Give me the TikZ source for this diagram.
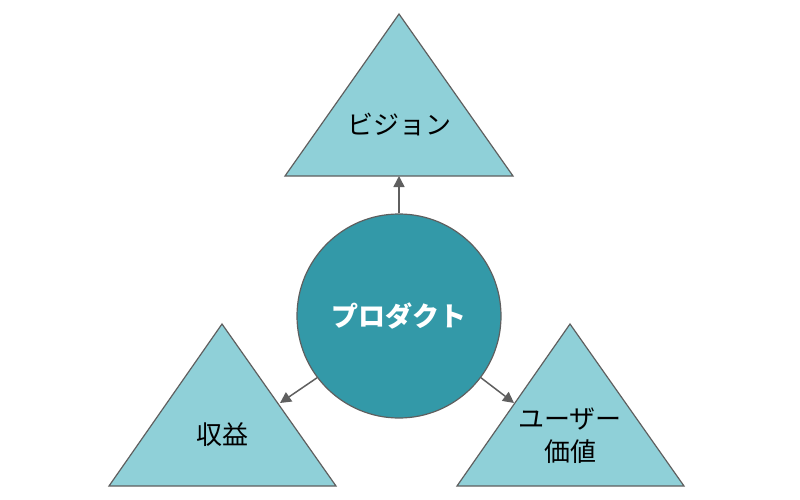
\documentclass[tikz,border=0pt]{standalone}
\usepackage{fontspec}
\setmainfont{Noto Sans CJK JP}
\usetikzlibrary{arrows.meta}
\definecolor{trifill}{HTML}{8FD0D8}
\definecolor{circfill}{HTML}{3399A8}
\definecolor{edgegray}{HTML}{5F5F5F}
\tikzset{
  tri/.style={fill=trifill,draw=edgegray,line width=1.2pt,line join=miter},
  conn/.style={draw=edgegray,line width=1.5pt,-{Triangle[length=11pt,width=11pt]}},
  lbl/.style={font=\fontsize{26}{33}\selectfont,text=black,align=center,inner sep=0pt}
}
\begin{document}
\begin{tikzpicture}[x=1pt,y=-1pt]
\useasboundingbox (0,0) rectangle (800,500);
% triangles
\draw[tri] (399,14) -- (513,176) -- (285,176) -- cycle;
\draw[tri] (222,324) -- (336,486) -- (109,486) -- cycle;
\draw[tri] (570,324) -- (684,486) -- (457,486) -- cycle;
\coordinate (topbase) at (399,176);
\coordinate (lefttip) at (280,403);
\coordinate (righttip) at (514,403);
% circle
\node[circle,fill=circfill,draw=edgegray,line width=1.2pt,minimum size=204pt,inner sep=0pt] (prod) at (399,316) {};
\node[font=\fontsize{27}{30}\selectfont\bfseries,text=white,inner sep=0pt] (prodtxt) at (399,316) {プロダクト};
% labels
\node[lbl] (vision) at (399,125) {ビジョン};
\node[lbl] (revenue) at (222,435) {収益};
\node[lbl] (uservalue) at (570,436) {ユーザー\\価値};
% connectors
\draw[conn] (prod.north) -- (topbase);
\draw[conn] (prod.217) -- (lefttip);
\draw[conn] (prod.323) -- (righttip);
\end{tikzpicture}
\end{document}
